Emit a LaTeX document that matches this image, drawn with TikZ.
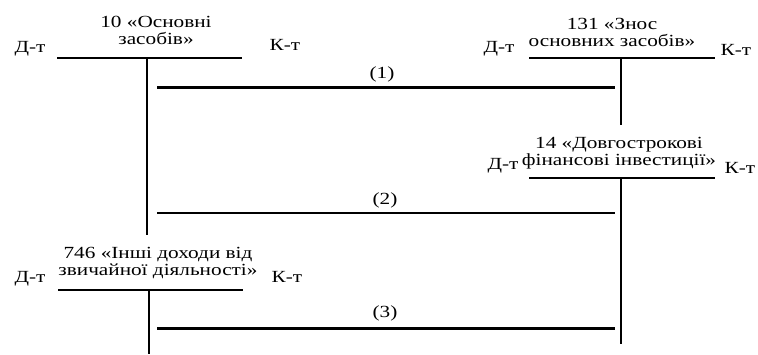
\documentclass[tikz,border=0pt]{standalone}
\usepackage{fontspec}
\setmainfont{Liberation Serif}[FakeStretch=1.25]
\begin{document}
\begin{tikzpicture}[x=1pt,y=-1pt,
  lbl/.style={font=\fontsize{17}{17}\selectfont, inner sep=0pt, anchor=base},
  ttl/.style={lbl, align=center},
  tacc/.style={line width=1.3pt},
  thinline/.style={line width=1.3pt},
  heavyline/.style={line width=3pt}]
\useasboundingbox[fill=white] (0,0) rectangle (758,354);
% T-account coordinates
\coordinate (a1l) at (57,58);  \coordinate (a1r) at (242,58);
\coordinate (a1t) at (147,58); \coordinate (a1b) at (147,235);
\coordinate (a2l) at (529,58); \coordinate (a2r) at (715,58);
\coordinate (a2t) at (621,58); \coordinate (a2b) at (621,125);
\coordinate (a3l) at (529,178); \coordinate (a3r) at (715,178);
\coordinate (a3t) at (621,178); \coordinate (a3b) at (621,344);
\coordinate (a4l) at (58,290); \coordinate (a4r) at (243,290);
\coordinate (a4t) at (149,290); \coordinate (a4b) at (149,354);
% entry lines
\coordinate (e1s) at (157,87);  \coordinate (e1e) at (615,87);
\coordinate (e2s) at (157,213); \coordinate (e2e) at (615,213);
\coordinate (e3s) at (157,328); \coordinate (e3e) at (615,328);
% T-accounts
\draw[tacc] (a1l) -- (a1r); \draw[tacc] (a1t) -- (a1b);
\draw[tacc] (a2l) -- (a2r); \draw[tacc] (a2t) -- (a2b);
\draw[tacc] (a3l) -- (a3r); \draw[tacc] (a3t) -- (a3b);
\draw[tacc] (a4l) -- (a4r); \draw[line width=2pt] (a4t) -- (a4b);
% entries
\draw[heavyline] (e1s) -- (e1e);
\draw[thinline] (e2s) -- (e2e);
\draw[heavyline] (e3s) -- (e3e);
% titles (anchor at baseline of the last line)
\node[ttl] (t1) at (156,44) {10 «Основні\\засобів»};
\node[ttl] (t2) at (612,46) {131 «Знос\\основних засобів»};
\node[ttl] (t3) at (619,165) {14 «Довгострокові\\фінансові інвестиції»};
\node[ttl] (t4) at (158,275) {746 «Інші доходи від\\звичайної діяльності»};
% debit / credit labels
\node[lbl] (d1) at (30,52) {Д-т};   \node[lbl] (k1) at (285,50) {К-т};
\node[lbl] (d2) at (499,52) {Д-т};  \node[lbl] (k2) at (736,55) {К-т};
\node[lbl] (d3) at (503,169) {Д-т}; \node[lbl] (k3) at (740,173) {К-т};
\node[lbl] (d4) at (30,282) {Д-т};  \node[lbl] (k4) at (287,282) {К-т};
% entry numbers
\node[lbl] (n1) at (382,78) {(1)};
\node[lbl] (n2) at (385,204) {(2)};
\node[lbl] (n3) at (385,317) {(3)};
\end{tikzpicture}
\end{document}
